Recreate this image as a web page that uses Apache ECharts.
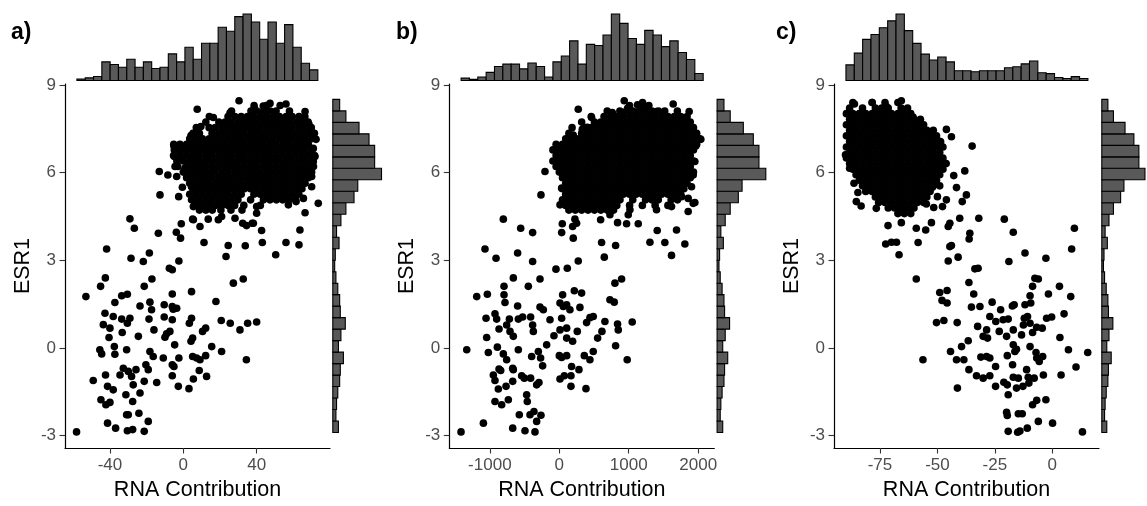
<!DOCTYPE html>
<html><head><meta charset="utf-8">
<script src="https://cdn.jsdelivr.net/npm/echarts@6/dist/echarts.min.js"></script>
<style>html,body{margin:0;padding:0;background:#fff}#c{width:1147px;height:506px}</style>
</head><body><div id="c"></div><script>
// ---------- tick labels / text ----------
const panelLabels = ['a)', 'b)', 'c)'];
const xTitle = 'RNA Contribution';
const yTitle = 'ESR1';
const yTicks = [-3, 0, 3, 6, 9];
const xTicksA = [-40, 0, 40];
const xTicksB = [-1000, 0, 1000, 2000];
const xTicksC = [-75, -50, -25, 0];

// ---------- marginal histograms (counts) ----------
const topBinStartA = -58.0, topBinWidthA = 4.53;
const topCountsA = [1,2,3,14,12,10,16,10,14,9,10,20,14,25,16,28,28,40,37,48,50,44,31,44,28,42,25,13,8];
const topBinStartB = -1414, topBinWidthB = 120.2;
const topCountsB = [2,1,3,7,12,14,14,10,15,12,3,16,21,34,14,31,30,39,57,49,36,31,43,39,29,34,24,18,6];
const topBinStartC = -89.8, topBinWidthC = 3.63;
const topCountsC = [16,28,42,47,54,61,68,51,38,27,21,24,19,10,10,9,10,10,10,13,14,17,20,8,7,3,2,4,2];
// ESR1 histogram (bottom -> top), identical on all three panels
const yBinStart = -2.89, yBinWidth = 0.393;
const yCounts = [9,5,6,8,11,12,17,9,13,20,12,11,8,5,3,4,10,6,13,21,34,40,78,67,67,58,42,21,11];

// ---------- scatter points: [RNA contribution, ESR1] ----------
const pointsA = [
[-58.2,-2.87],[-53.1,1.76],[-45.1,2.11],[-42.5,2.40],[-49.1,-1.11],[-45.5,-0.06],[-44.5,-0.20],[-42.7,1.19],[-43.6,0.80],[-40.5,0.36],[-40.0,0.68],[-42.4,-0.92],[-41.3,-1.31],[-38.2,-1.43],[-44.9,-1.77],[-42.2,-1.94],[-40.0,-1.86],[-41.3,-2.57],[-36.9,-2.74],[-37.3,1.56],[-38.2,1.08],[-37.6,0.05],[-37.3,-0.21],[-33.6,1.79],[-30.5,1.84],[-33.3,0.53],[-33.6,0.99],[-30.5,0.85],[-29.1,1.02],[-30.9,-0.06],[-34.5,-0.92],[-32.7,-0.69],[-30.0,-0.80],[-28.2,-0.97],[-25.8,-0.74],[-27.3,-1.26],[-31.3,-1.60],[-27.6,-1.83],[-30.9,-2.28],[-30.0,-2.28],[-24.2,-2.23],[-30.5,-2.83],[-27.6,-2.79],[-21.3,-2.85],[-19.1,-2.51],[-23.6,-1.54],[-21.3,-1.14],[-19.1,-0.74],[-20.4,-0.57],[-18.2,-0.12],[-16.4,-0.29],[-14.5,-1.18],[-24.5,0.40],[-21.3,2.11],[-17.1,2.36],[-23.6,1.44],[-18.2,1.57],[-17.3,1.31],[-18.7,0.99],[-16.0,0.62],[-10.9,-0.34],[-10.0,0.37],[-9.1,0.49],[-7.3,0.57],[-10.4,1.06],[-10.4,1.48],[-6.0,0.97],[-6.0,1.42],[-5.5,1.33],[-3.6,1.36],[-6.0,1.85],[-4.7,0.11],[-6.0,-0.57],[-5.1,-0.63],[-6.0,-0.95],[-2.4,-0.34],[-2.7,-1.31],[3.1,-1.39],[3.3,0.85],[4.5,1.02],[4.2,0.23],[5.1,0.34],[4.5,1.93],[5.1,-0.29],[5.5,-1.06],[7.3,-0.34],[9.1,-0.40],[12.2,-0.26],[8.7,-0.77],[12.7,-0.97],[10.5,0.57],[12.2,0.68],[15.5,0.05],[17.8,1.59],[20.9,-0.12],[20.7,0.94],[25.6,0.85],[30.9,0.62],[35.1,0.85],[40.0,0.89],[34.4,-0.40],[27.3,2.22],[32.7,2.36],[-6.0,2.68],
[-41.8,3.39],[-28.5,3.07],[-29.1,4.42],[-26.7,4.10],[-21.8,2.96],[-18.5,3.25],[-13.6,3.93],[-7.6,2.73],[-2.4,2.98],[-3.8,3.96],[-1.5,3.76],[-1.1,4.25],[5.5,4.39],[9.1,4.16],[11.3,3.61],[23.3,3.13],[24.5,3.51],[33.8,3.50],[34.5,4.19],[37.6,4.27],[42.7,4.02],[43.1,3.61],[50.4,3.19],[56.0,3.61],[63.1,3.53],[63.6,4.04],[66.4,4.63],[73.6,4.95],[-12.7,5.24],[-13.1,6.04],[-8.4,5.92],[-3.6,5.87],[-2.5,5.18],[-0.5,5.50],[4.2,7.27],[7.6,8.17],[16.4,7.89],[30.4,8.46],[38.7,8.20],[43.6,8.28],[47.3,8.37],[56.0,8.35],[66.4,8.09],[25.5,8.05],[34.9,7.78],[68.5,7.66],[72.4,7.14],[9.6,7.58],[-5.1,6.91],[-4.9,6.78],[-4.9,6.55],[-4.5,6.21],[-0.9,6.44],[2.7,6.83],[0.9,6.15],[4.5,5.52],[4.5,5.07],[5.5,4.84],[9.1,4.84],[5.1,4.41],[13.6,4.41],[19.1,4.39],[20.9,4.50],[28.2,4.44],[32.4,4.27],[38.2,4.27],[40.0,4.61],[40.0,4.84],[57.3,4.90],[61.5,5.01],[65.5,5.12],[70.9,6.38],[70.0,5.87],[70.0,5.52],[70.9,6.83],[71.8,6.55]
];
// dense core, read row by row: [ESR1, [RNA contribution values]]
const coreA = [
[8.30,[38.6,45.3,52.8]],
[8.11,[26.3,36.9,40.1,43.8,47.4,50.6,57.9]],
[7.92,[14.2,24.4,28.1,31.6,35.0,38.4,42.1,45.5,49.2,52.4,56.1,59.4,63.1,66.3]],
[7.73,[12.3,19.4,22.8,26.2,29.8,33.3,36.7,40.3,43.8,47.2,50.8,54.3,57.7,61.3,64.8,68.1]],
[7.54,[7.1,14.1,17.4,21.1,24.5,28.0,31.6,35.0,38.4,42.0,45.6,49.1,52.5,56.0,59.4,63.0,66.6,69.8]],
[7.35,[5.3,8.8,15.7,19.3,22.7,26.3,29.8,33.2,36.8,40.2,43.7,47.3,50.8,54.2,57.8,61.2,64.7,68.3,71.5]],
[7.16,[3.5,7.0,10.5,14.1,17.5,21.0,24.6,28.0,31.4,35.1,38.5,42.0,45.4,49.0,52.6,56.0,59.5,63.1,66.4,70.0]],
[6.97,[-5.2,-1.8,1.8,5.2,8.8,12.2,15.8,19.2,22.7,26.3,29.7,33.3,36.8,40.2,43.7,47.3,50.7,54.3,57.7,61.3,64.7,68.2]],
[6.78,[-3.5,0.1,3.5,7.0,10.4,14.0,17.5,21.1,24.5,27.9,31.5,35.0,38.6,42.0,45.5,48.9,52.5,56.0,59.6,63.0,66.5,70.1]],
[6.59,[-5.3,-1.7,1.8,5.3,8.7,12.3,15.7,19.3,22.8,26.2,29.8,33.2,36.7,40.3,43.8,47.2,50.8,54.2,57.8,61.2,64.8,68.2,71.6]],
[6.40,[-3.5,0.0,3.6,7.0,10.5,13.9,17.5,21.0,24.6,28.0,31.4,35.0,38.5,42.1,45.5,49.0,52.4,56.0,59.5,63.1,66.5,70.0]],
[6.21,[-3.0,1.7,5.3,8.8,12.2,15.8,19.2,22.8,26.3,29.7,33.3,36.7,40.2,43.8,47.2,50.8,54.3,57.7,61.2,64.8,68.3,71.0]],
[6.02,[0.0,3.5,7.1,10.5,14.0,17.4,21.0,24.5,28.1,31.5,35.0,38.4,42.0,45.6,49.0,52.5,55.9,59.5,63.0,66.6,70.0]],
[5.83,[1.8,5.2,8.8,12.3,15.7,19.3,22.7,26.2,29.8,33.3,36.7,40.3,43.7,47.2,50.8,54.2,57.8,61.3,64.7,68.2]],
[5.64,[3.5,7.0,10.5,14.0,17.6,21.0,24.5,28.0,31.5,35.1,38.5,42.0,45.4,49.0,52.5,56.1,59.5,63.0,66.4]],
[5.45,[5.2,8.8,12.2,15.8,19.2,22.8,26.3,29.7,33.3,36.7,40.2,43.8,47.3,50.7,54.2,57.8,61.3,64.7]],
[5.26,[3.5,7.0,10.5,14.1,17.5,21.0,24.4,28.0,31.6,38.5,42.0,45.5,49.0,52.5,56.0,59.5,63.0]],
[5.07,[5.3,8.7,12.3,15.7,19.3,22.7,26.2,29.8,36.7,43.7,47.3,50.8,54.2,57.7,61.2]],
[4.88,[7.0,10.5,14.0,17.5,21.0,24.5,28.0,33.0,42.0]],
[4.72,[8.8,12.3,15.8,20.5,26.0,32.0]]
];

const pointsB = [
[-1415,-2.87],[-1333,-0.06],[-1189,1.76],[-1036,1.84],[-1093,-2.57],[-1055,1.02],[-1046,0.36],[-1022,-0.15],[-926,1.17],[-902,0.99],[-796,2.11],[-662,2.40],[-796,1.82],[-782,1.56],[-950,-0.92],[-926,-1.11],[-868,-0.72],[-844,-0.77],[-878,-1.40],[-767,-1.31],[-926,-1.83],[-830,-1.94],[-734,-1.77],[-892,0.03],[-806,-0.20],[-758,-0.40],[-868,0.65],[-758,0.79],[-719,0.99],[-710,0.57],[-662,0.40],[-671,-0.69],[-662,-0.74],[-671,-1.14],[-671,-2.74],[-590,-0.06],[-600,1.44],[-590,0.99],[-528,1.06],[-542,-0.95],[-504,-1.03],[-446,2.11],[-413,1.06],[-384,0.79],[-374,0.57],[-398,-0.29],[-470,-1.60],[-461,-1.83],[-413,-1.03],[-326,-1.26],[-293,-1.18],[-576,-2.28],[-422,-2.28],[-365,-2.17],[-326,-2.51],[-494,-2.83],[-350,-2.87],[-264,-2.30],[-278,2.36],[-302,-0.12],[-269,-0.34],[-240,-0.61],[-278,1.40],[-230,1.31],[-182,0.11],[-134,0.97],[-77,0.42],[10,1.54],[58,1.42],[106,1.48],[153,1.31],[48,1.82],[216,1.96],[321,1.88],[34,1.02],[10,0.62],[106,0.68],[106,0.34],[192,0.23],[259,0.57],[0,-0.26],[34,-0.32],[106,-0.26],[10,-1.06],[72,-0.95],[177,-0.63],[168,-0.95],[283,-0.74],[168,-1.31],[384,-1.39],[297,1.39],[393,0.87],[441,1.04],[489,1.08],[360,-0.26],[441,-0.40],[489,-0.12],[552,0.34],[614,0.57],[657,0.91],[729,1.65],[791,1.57],[801,2.22],[897,2.36],[811,0.08],[839,0.82],[849,0.62],[1050,0.89],[978,-0.40],
[-1070,3.39],[-911,3.07],[-806,4.41],[-556,4.10],[-600,3.25],[-384,3.95],[-384,2.96],[-48,2.70],[115,2.73],[273,2.98],[34,3.95],[201,3.76],[192,4.16],[225,4.41],[249,4.27],[43,4.25],[609,3.61],[648,3.11],[811,3.51],[595,4.39],[729,4.56],[839,4.29],[969,4.25],[1137,4.25],[993,4.56],[1017,4.73],[1305,3.62],[1410,4.02],[1520,3.61],[1616,3.17],[1688,4.04],[1808,3.56],[1856,4.67],[1928,4.95],[-206,6.04],[-264,5.24],[34,5.47],[177,5.50],[48,5.04],[10,4.90],[216,5.18],[249,4.86],[-38,6.89],[-62,6.78],[-29,6.21],[106,6.53],[96,6.15],[201,7.29],[273,8.17],[465,7.89],[331,7.48],[403,7.55],[763,8.06],[935,8.46],[983,8.20],[1127,8.32],[1199,8.40],[1257,8.12],[1400,8.09],[1640,8.35],[1870,8.09],[2038,7.14],[1966,6.91],[1952,6.38],[1928,5.92],[1904,5.52],[1952,4.98],[1856,5.12],[1760,5.18],[1616,4.84],[1400,4.73]
];
const coreB = [
[8.30,[1012,1196,1290]],
[8.11,[690,872,966,1060,1150,1240,1334,1428,1518,1700]],
[7.92,[460,644,738,828,920,1014,1104,1196,1288,1380,1474,1564,1656,1748,1840]],
[7.73,[322,506,598,690,782,874,966,1058,1150,1242,1334,1426,1518,1610,1702,1794,1886]],
[7.54,[184,368,460,552,644,736,828,920,1012,1104,1196,1288,1380,1472,1564,1656,1748,1840,1932]],
[7.35,[138,322,414,506,598,690,782,874,966,1058,1150,1242,1334,1426,1518,1610,1702,1794,1886,1978]],
[7.16,[92,184,276,368,460,552,644,736,828,920,1012,1104,1196,1288,1380,1472,1564,1656,1748,1840,1932,2024]],
[6.97,[-46,46,138,230,322,414,506,598,690,782,874,966,1058,1150,1242,1334,1426,1518,1610,1702,1794,1886,1978]],
[6.78,[-92,0,92,184,276,368,460,552,644,736,828,920,1012,1104,1196,1288,1380,1472,1564,1656,1748,1840,1932]],
[6.59,[-46,46,138,230,322,414,506,598,690,782,874,966,1058,1150,1242,1334,1426,1518,1610,1702,1794,1886]],
[6.40,[-92,0,92,184,276,368,460,552,644,736,828,920,1012,1104,1196,1288,1380,1472,1564,1656,1748,1840,1932]],
[6.21,[-46,46,138,230,322,414,506,598,690,782,874,966,1058,1150,1242,1334,1426,1518,1610,1702,1794,1886]],
[6.02,[0,92,184,276,368,460,552,644,736,828,920,1012,1104,1196,1288,1380,1472,1564,1656,1748,1840,1932]],
[5.83,[46,138,230,322,414,506,598,690,782,874,966,1058,1150,1242,1334,1426,1518,1610,1702,1794,1886]],
[5.64,[92,184,276,368,460,552,644,736,828,920,1012,1104,1196,1288,1380,1472,1564,1656,1748,1840]],
[5.45,[46,138,230,322,414,506,598,690,782,874,966,1058,1150,1242,1334,1426,1518,1610,1702,1794]],
[5.26,[92,184,276,368,460,552,644,736,828,920,1012,1104,1196,1288,1380,1472,1564,1656,1748]],
[5.07,[46,138,230,322,414,506,598,690,782,874,1058,1242,1334,1426,1610,1702]],
[4.88,[92,184,276,368,460,552,644,736,828,1012,1196,1380,1564]],
[4.72,[138,230,322,414,506,598,690,782]]
];

const pointsC = [
[-59.2,2.36],[-49.0,1.90],[-45.8,1.97],[-48.0,1.63],[-45.8,1.54],[-50.4,0.87],[-47.2,0.94],[-41.4,0.87],[-56.3,-0.40],[-44.3,-0.12],[-41.7,-0.40],[-38.5,-0.40],[-39.5,0.05],[-36.6,0.25],[-36.3,-0.74],[-41.3,-1.37],[-36.3,2.24],[-34.2,1.85],[-35.2,1.40],[-31.5,1.42],[-32.5,0.74],[-30.1,0.40],[-28.6,0.62],[-28.2,0.34],[-31.1,-0.31],[-28.6,-0.29],[-27.2,-0.34],[-24.7,-0.63],[-33.0,-0.95],[-30.1,-1.03],[-27.2,-0.95],[-24.7,-1.31],[-26.2,1.57],[-27.2,1.08],[-24.6,0.91],[-23.1,0.57],[-22.5,1.31],[-21.4,0.97],[-19.2,0.99],[-19.9,0.40],[-19.6,-0.26],[-17.3,-0.57],[-21.1,-1.17],[-19.6,-1.26],[-15.6,-1.37],[-19.2,-1.60],[-19.9,-2.20],[-19.6,-2.31],[-19.2,-2.85],[-15.1,-2.88],[-14.1,-2.84],[-10.9,-2.74],[-14.8,-2.25],[-13.1,-2.25],[-17.4,1.44],[-16.6,1.48],[-17.0,0.62],[-17.0,0.11],[-15.6,-0.04],[-16.3,-0.12],[-13.4,0.45],[-12.6,0.79],[-12.2,1.02],[-10.8,1.08],[-9.7,0.85],[-11.9,1.48],[-9.7,1.79],[-9.4,1.54],[-8.6,2.11],[-7.6,2.39],[-6.1,2.36],[-6.8,0.71],[-4.4,0.68],[-8.6,0.53],[-9.7,0.05],[-7.1,-0.15],[-6.8,-0.34],[-4.2,-0.29],[-5.7,-0.46],[-11.2,-0.74],[-10.5,-1.00],[-7.9,-1.03],[-10.2,-1.20],[-12.8,-1.31],[-14.8,-1.03],[-17.0,-1.00],[-3.9,-0.92],[-2.8,-1.77],[-6.8,-1.79],[-8.6,-1.94],[-6.1,-2.51],[0.1,-2.57],[13.1,-2.87],[-2.5,1.02],[-0.3,1.06],[-1.7,1.85],[3.1,2.11],[8.0,1.76],[5.1,1.17],[3.3,0.36],[7.0,-0.06],[15.4,-0.15],[10.3,-0.65],[3.8,-0.92],
[-34.9,6.91],[-46.1,7.48],[-43.9,7.23],[-38.1,6.06],[-42.9,5.90],[-41.7,5.49],[-37.4,5.24],[-39.2,5.01],[-40.3,4.44],[-32.0,4.44],[-44.6,4.27],[-45.3,4.16],[-35.9,3.93],[-36.2,3.73],[-43.9,3.51],[-44.6,3.47],[-41.0,3.11],[-45.3,2.98],[-33.7,2.71],[-32.3,2.73],[-20.9,4.41],[-17.0,3.96],[-11.9,3.25],[-18.9,2.96],[-2.8,3.07],[8.4,3.39],[9.6,4.10],[-71.5,4.19],[-72.5,3.56],[-70.0,3.62],[-67.8,3.62],[-66.7,3.19],[-58.4,3.61],[-59.2,4.10],[-55.1,4.04],[-52.6,4.29],[-65.7,4.29],[-76.6,4.78],[-83.2,4.86],[-85.3,5.01],[-84.6,5.32],[-90.0,6.61],[-88.2,6.15],[-86.3,5.64],[-86.1,8.35],[-78.4,8.40],[-65.7,8.46],[-60.6,7.90],[-88.2,8.09],[-72.2,8.26],[-75.4,8.09],[-56.3,7.52],[-52.6,7.26],[-48.6,7.06],[-50.4,6.44],[-46.8,6.32],[-48.3,6.15],[-49.0,5.55],[-52.2,5.50],[-50.0,5.18],[-46.1,5.07],[-47.8,4.84],[-51.6,4.81],[-54.8,4.93]
];
const coreC = [
[8.40,[-86.8,-78.4,-72.8,-67.2]],
[8.21,[-88.2,-82.6,-77.0,-74.2,-71.4,-65.8,-63.0]],
[8.02,[-89.6,-86.8,-84.0,-81.2,-78.4,-75.6,-72.8,-70.0,-67.2,-64.4,-61.6]],
[7.83,[-88.2,-85.4,-82.6,-79.8,-77.0,-74.2,-71.4,-68.6,-65.8,-63.0,-60.2,-57.4]],
[7.64,[-89.6,-86.8,-84.0,-81.2,-78.4,-75.6,-72.8,-70.0,-67.2,-64.4,-61.6,-58.8,-56.0]],
[7.45,[-88.2,-85.4,-82.6,-79.8,-77.0,-74.2,-71.4,-68.6,-65.8,-63.0,-60.2,-57.4,-54.6,-51.8]],
[7.26,[-89.6,-86.8,-84.0,-81.2,-78.4,-75.6,-72.8,-70.0,-67.2,-64.4,-61.6,-58.8,-56.0,-53.2,-50.4]],
[7.07,[-88.2,-85.4,-82.6,-79.8,-77.0,-74.2,-71.4,-68.6,-65.8,-63.0,-60.2,-57.4,-54.6,-51.8,-49.0]],
[6.88,[-89.6,-86.8,-84.0,-81.2,-78.4,-75.6,-72.8,-70.0,-67.2,-64.4,-61.6,-58.8,-56.0,-53.2,-50.4,-47.6]],
[6.69,[-88.2,-85.4,-82.6,-79.8,-77.0,-74.2,-71.4,-68.6,-65.8,-63.0,-60.2,-57.4,-54.6,-51.8,-49.0]],
[6.50,[-89.6,-86.8,-84.0,-81.2,-78.4,-75.6,-72.8,-70.0,-67.2,-64.4,-61.6,-58.8,-56.0,-53.2,-50.4,-47.6]],
[6.31,[-88.2,-85.4,-82.6,-79.8,-77.0,-74.2,-71.4,-68.6,-65.8,-63.0,-60.2,-57.4,-54.6,-51.8,-49.0,-46.2]],
[6.12,[-86.8,-84.0,-81.2,-78.4,-75.6,-72.8,-70.0,-67.2,-64.4,-61.6,-58.8,-56.0,-53.2,-50.4,-47.6]],
[5.93,[-85.4,-82.6,-79.8,-77.0,-74.2,-71.4,-68.6,-65.8,-63.0,-60.2,-57.4,-54.6,-51.8,-49.0]],
[5.74,[-84.0,-81.2,-78.4,-75.6,-72.8,-70.0,-67.2,-64.4,-61.6,-58.8,-56.0,-53.2,-50.4]],
[5.55,[-82.6,-79.8,-77.0,-74.2,-71.4,-68.6,-65.8,-63.0,-60.2,-57.4,-54.6,-51.8]],
[5.36,[-81.2,-78.4,-75.6,-72.8,-70.0,-67.2,-64.4,-61.6,-58.8,-56.0,-53.2]],
[5.17,[-77.0,-74.2,-71.4,-68.6,-65.8,-63.0,-60.2,-57.4,-54.6]],
[4.98,[-75.6,-72.8,-70.0,-67.2,-64.4,-61.6,-58.8,-56.0]],
[4.79,[-71.4,-68.6,-65.8,-63.0,-60.2]],
[4.60,[-67.2,-64.4,-61.6]]
];

// ---------- layout / style ----------
const FONT = '"Liberation Sans", Arial, Helvetica, sans-serif';
const MAIN_TOP = 84, MAIN_H = 364, MAIN_W = 265;
const Y_MIN = -3.42, Y_MAX = 9.034;
const panels = [
  {label: panelLabels[0], labelX: 11, left: 65,    xMin: -64.5, xMax: 80.0, ticks: xTicksA, pts: pointsA, core: coreA, tStart: topBinStartA, tW: topBinWidthA, tC: topCountsA},
  {label: panelLabels[1], labelX: 396, left: 449.3, xMin: -1584, xMax: 2232, ticks: xTicksB, pts: pointsB, core: coreB, tStart: topBinStartB, tW: topBinWidthB, tC: topCountsB},
  {label: panelLabels[2], labelX: 776, left: 834,   xMin: -95.0, xMax: 20.3, ticks: xTicksC, pts: pointsC, core: coreC, tStart: topBinStartC, tW: topBinWidthC, tC: topCountsC}
];

const grid = [], xAxis = [], yAxis = [], series = [], graphic = [];
const axisCommon = {
  axisLine: {show: true, onZero: false, lineStyle: {color: '#000', width: 1.2}},
  splitLine: {show: false}
};
const plainNum = v => String(Math.round(v * 1000) / 1000);
function histRect(params, api, horizontal) {
  const a = api.value(0), b = api.value(1), c = api.value(2);
  let p0, p1;
  if (!horizontal) { p0 = api.coord([a, c]); p1 = api.coord([b, 0]); }
  else { p0 = api.coord([0, b]); p1 = api.coord([c, a]); }
  return {type: 'rect', shape: {x: Math.min(p0[0], p1[0]), y: Math.min(p0[1], p1[1]), width: Math.abs(p1[0]-p0[0]), height: Math.abs(p1[1]-p0[1])},
          style: {fill: '#595959', stroke: '#000', lineWidth: 1.1}};
}
const yHistData = yCounts.map((c, i) => [yBinStart + i*yBinWidth, yBinStart + (i+1)*yBinWidth, c]);
const yHistMax = Math.max(...yCounts);

panels.forEach((p, k) => {
  const gi = k*3;
  grid.push({left: p.left, top: MAIN_TOP, width: MAIN_W, height: MAIN_H});
  grid.push({left: p.left, top: 10, width: MAIN_W, height: 70.5});
  grid.push({left: p.left + MAIN_W + 2.8, top: MAIN_TOP, width: 51, height: MAIN_H});
  xAxis.push(Object.assign({}, axisCommon, {
    gridIndex: gi, type: 'value', min: p.xMin, max: p.xMax,
    axisTick: {show: true, length: 5.5, customValues: p.ticks, lineStyle: {color: '#333', width: 1.1}},
    axisLabel: {customValues: p.ticks, formatter: plainNum, color: '#4d4d4d', fontSize: 17, fontFamily: FONT, margin: 9},
    name: xTitle, nameLocation: 'middle', nameGap: 31,
    nameTextStyle: {fontSize: 21.5, color: '#000', fontFamily: FONT}
  }));
  yAxis.push(Object.assign({}, axisCommon, {
    gridIndex: gi, type: 'value', min: Y_MIN, max: Y_MAX,
    axisTick: {show: true, length: 5.5, customValues: yTicks, lineStyle: {color: '#333', width: 1.1}},
    axisLabel: {customValues: yTicks, formatter: plainNum, color: '#4d4d4d', fontSize: 17, fontFamily: FONT, margin: 9},
    name: yTitle, nameLocation: 'middle', nameGap: 31,
    nameTextStyle: {fontSize: 21.5, color: '#000', fontFamily: FONT}
  }));
  const tMax = Math.max(...p.tC);
  xAxis.push({gridIndex: gi+1, type: 'value', min: p.xMin, max: p.xMax, show: false});
  yAxis.push({gridIndex: gi+1, type: 'value', min: 0, max: tMax*1.06, show: false});
  xAxis.push({gridIndex: gi+2, type: 'value', min: 0, max: yHistMax*1.047, show: false});
  yAxis.push({gridIndex: gi+2, type: 'value', min: Y_MIN, max: Y_MAX, show: false});

  const data = p.pts.slice();
  p.core.forEach(([y, xs]) => xs.forEach(x => data.push([x, y])));
  series.push({type: 'scatter', xAxisIndex: gi, yAxisIndex: gi, data: data,
    symbol: 'circle', symbolSize: 7.6, itemStyle: {color: '#000', opacity: 1}, silent: true, z: 3});
  const tData = p.tC.map((c, i) => [p.tStart + i*p.tW, p.tStart + (i+1)*p.tW, c]);
  series.push({type: 'custom', xAxisIndex: gi+1, yAxisIndex: gi+1, data: tData,
    renderItem: (pa, api) => histRect(pa, api, false), silent: true});
  series.push({type: 'custom', xAxisIndex: gi+2, yAxisIndex: gi+2, data: yHistData,
    renderItem: (pa, api) => histRect(pa, api, true), silent: true});
  graphic.push({type: 'text', left: p.labelX, top: 21,
    style: {text: p.label, font: 'bold 23px ' + FONT, fill: '#000'}});
});

const chart = echarts.init(document.getElementById('c'), null, {renderer: 'canvas'});
chart.setOption({animation: false, backgroundColor: '#fff', grid, xAxis, yAxis, series, graphic});
</script></body></html>
